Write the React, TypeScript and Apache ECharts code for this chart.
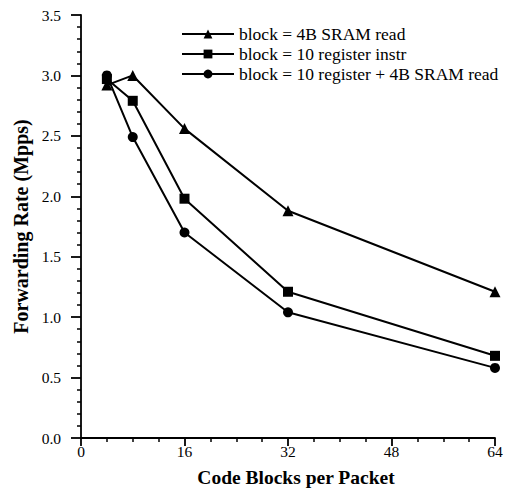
import React, { useEffect, useRef } from "react";
import * as echarts from "echarts";

const blocks = [4, 8, 16, 32, 64];
const sramRead = [2.92, 3.0, 2.56, 1.88, 1.21];
const registerInstr = [2.97, 2.79, 1.98, 1.21, 0.68];
const registerPlusSram = [3.0, 2.49, 1.7, 1.04, 0.58];
const seriesNames = [
  "block = 4B SRAM read",
  "block = 10 register instr",
  "block = 10 register + 4B SRAM read",
];

const FONT = "Liberation Serif";

export default function App() {
  const ref = useRef<HTMLDivElement>(null);
  useEffect(() => {
    if (!ref.current) return;
    const chart = echarts.init(ref.current, undefined, { renderer: "svg" });
    const mk = (vals: number[]) => blocks.map((b, i) => [b, vals[i]]);
    const lineStyle = { color: "#000", width: 2 };
    chart.setOption({
      animation: false,
      backgroundColor: "#fff",
      textStyle: { fontFamily: FONT, color: "#000" },
      grid: { left: 81, top: 15, right: 11, bottom: 59, containLabel: false },
      legend: {
        orient: "vertical",
        left: 181,
        top: 25,
        padding: 0,
        itemWidth: 52,
        itemHeight: 11,
        itemGap: 2,
        textStyle: { fontFamily: FONT, fontSize: 17.5, color: "#000", lineHeight: 17 },
        data: seriesNames,
      },
      xAxis: {
        type: "value",
        min: 0,
        max: 64,
        interval: 16,
        name: "Code Blocks per Packet",
        nameLocation: "middle",
        nameGap: 29,
        nameTextStyle: {
          fontFamily: FONT,
          fontSize: 19.5,
          fontWeight: "bold",
          color: "#000",
          padding: [0, 0, 0, 16],
        },
        axisLine: { lineStyle: { color: "#000", width: 1.8 } },
        axisTick: { length: 8, lineStyle: { color: "#000", width: 1.8 } },
        minorTick: { show: true, splitNumber: 4, length: 4, lineStyle: { color: "#000", width: 1.5 } },
        axisLabel: { fontFamily: FONT, fontSize: 15.5, color: "#000", margin: 5 },
        splitLine: { show: false },
      },
      yAxis: {
        type: "value",
        min: 0,
        max: 3.5,
        interval: 0.5,
        name: "Forwarding Rate (Mpps)",
        nameLocation: "middle",
        nameGap: 49,
        nameTextStyle: { fontFamily: FONT, fontSize: 20, fontWeight: "bold", color: "#000" },
        axisLine: { show: true, lineStyle: { color: "#000", width: 1.8 } },
        axisTick: { show: true, length: 10, lineStyle: { color: "#000", width: 1.8 } },
        minorTick: { show: true, splitNumber: 5, length: 4, lineStyle: { color: "#000", width: 1.5 } },
        axisLabel: {
          fontFamily: FONT,
          fontSize: 15.5,
          color: "#000",
          margin: 20,
          formatter: (v: number) => v.toFixed(1),
        },
        splitLine: { show: false },
      },
      series: [
        {
          name: seriesNames[0],
          type: "line",
          data: mk(sramRead),
          symbol: "triangle",
          symbolSize: 11,
          itemStyle: { color: "#000" },
          lineStyle,
        },
        {
          name: seriesNames[1],
          type: "line",
          data: mk(registerInstr),
          symbol: "rect",
          symbolSize: 10,
          itemStyle: { color: "#000" },
          lineStyle,
        },
        {
          name: seriesNames[2],
          type: "line",
          data: mk(registerPlusSram),
          symbol: "circle",
          symbolSize: 10,
          itemStyle: { color: "#000" },
          lineStyle,
        },
      ],
    });
    return () => chart.dispose();
  }, []);
  return <div ref={ref} style={{ width: 506, height: 497, position: "absolute", left: 0, top: 0 }} />;
}
